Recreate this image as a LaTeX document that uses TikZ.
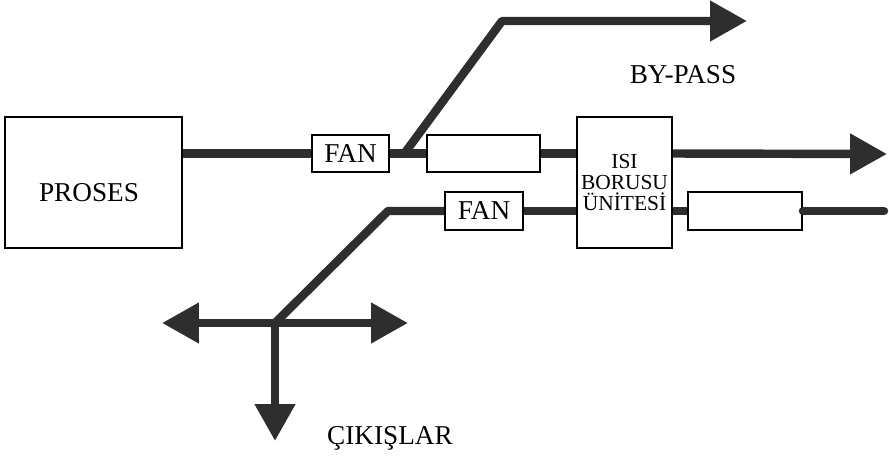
\documentclass[tikz,border=0pt]{standalone}
\usepackage{fontspec}
\setmainfont{Liberation Serif}
\usetikzlibrary{arrows.meta}
\colorlet{pipegray}{black!82}

\begin{document}
\begin{tikzpicture}[
    x=0.02cm, y=-0.02cm,
    font=\fontsize{15.5}{18}\selectfont,
    blk/.style={draw=black, line width=1.1pt, inner sep=0pt, fill=white},
    pipe/.style={pipegray, line width=4.8pt},
    flow/.style={pipe, line join=round, -{Triangle[length=21pt, width=22pt]}},
    lab/.style={font=\fontsize{15.5}{18}\selectfont},
]
\useasboundingbox (0,0) rectangle (889,457);

% ---- blocks ----
\node[blk, minimum width=3.54cm, minimum height=2.62cm] (proses) at (93.5,182.5) {};
\node[lab] at (89,193) {PROSES};
\node[blk, minimum width=1.54cm, minimum height=0.74cm] (fan1) at (350.5,153.5) {FAN};
\node[blk, minimum width=2.26cm, minimum height=0.74cm] (box2) at (483.5,153.5) {};
\node[blk, minimum width=1.90cm, minimum height=2.62cm, align=center,
      font=\fontsize{12.2}{12.2}\selectfont] (isi) at (624.5,182.5)
      {ISI\\BORUSU\\ÜNİTESİ};
\node[blk, minimum width=1.56cm, minimum height=0.76cm] (fan2) at (484,211) {FAN};
\node[blk, minimum width=2.28cm, minimum height=0.76cm] (box3) at (745,211) {};

% ---- free ends ----
\coordinate (outtip) at (887,154);
\coordinate (bp) at (404,154);
\coordinate (bpc) at (502,21);
\coordinate (bptip) at (747,21);
\coordinate (lowend) at (884,211);
\coordinate (lc) at (388,211);
\coordinate (jn) at (275,323);
\coordinate (ltip) at (162,323);
\coordinate (rtip) at (408,323);
\coordinate (dtip) at (275,441);

% ---- upper line ----
\draw[pipe] (proses.east |- fan1.west) -- (fan1.west);
\draw[pipe] (fan1.east) -- (box2.west);
\draw[pipe] (box2.east) -- (isi.west |- box2.east);
\draw[flow] (isi.east |- box2.east) -- (outtip);
\draw[flow] (bp) -- (bpc) -- (bptip);
\node[lab] at (683,75) {BY-PASS};

% ---- lower line ----
\draw[pipe, line cap=round] (box3.east) -- (lowend);
\draw[pipe] (isi.east |- box3.west) -- (box3.west);
\draw[pipe] (fan2.east) -- (isi.west |- fan2.east);
\draw[pipe, line join=round] (fan2.west) -- (lc) -- (jn);
\draw[flow] (jn) -- (ltip);
\draw[flow] (jn) -- (rtip);
\draw[flow] (jn) -- (dtip);
\node[lab] at (390,438) {ÇIKIŞLAR};
\end{tikzpicture}
\end{document}
